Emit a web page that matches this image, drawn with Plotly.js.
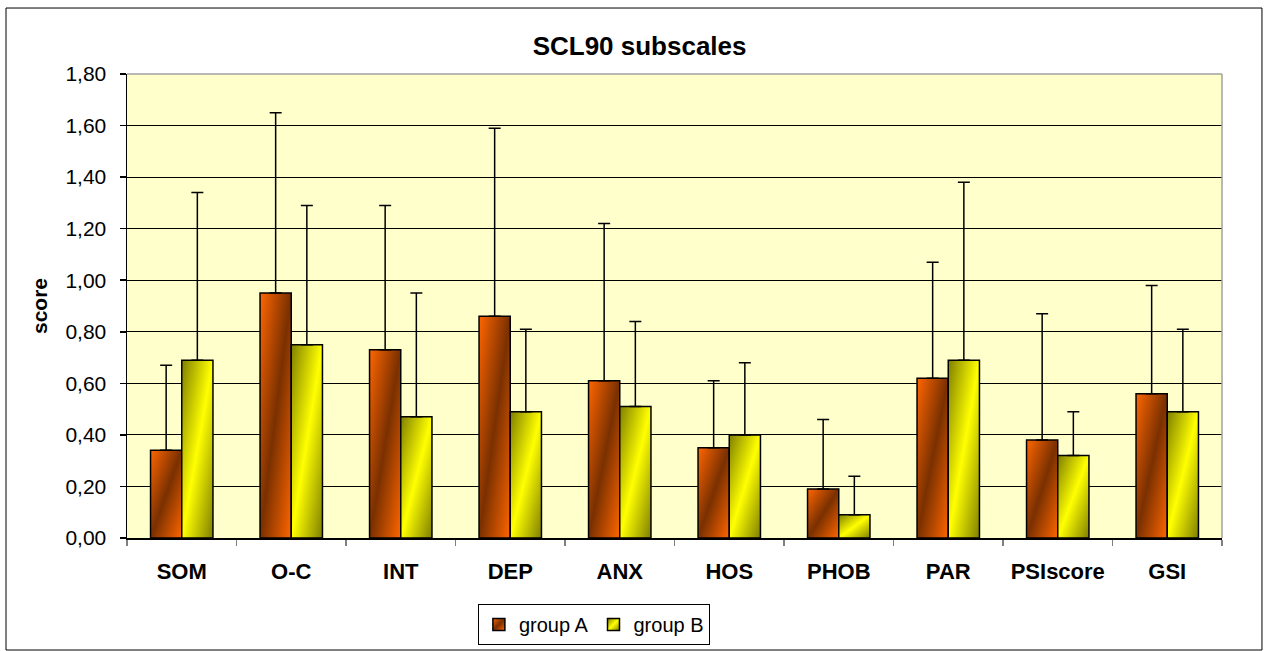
<!DOCTYPE html>
<html>
<head>
<meta charset="utf-8">
<script src="https://cdn.plot.ly/plotly-3.0.1.min.js"></script>
<style>
  html, body { margin: 0; padding: 0; background: #ffffff; }
  #chart { width: 1269px; height: 651px; }
</style>
</head>
<body>
<div id="chart"></div>
<script>
// ---- data ----
const categories = ["SOM", "O-C", "INT", "DEP", "ANX", "HOS", "PHOB", "PAR", "PSIscore", "GSI"];
const groupA = [0.34, 0.95, 0.73, 0.86, 0.61, 0.35, 0.19, 0.62, 0.38, 0.56];
const groupA_sd = [0.33, 0.70, 0.56, 0.73, 0.61, 0.26, 0.27, 0.45, 0.49, 0.42];
const groupB = [0.69, 0.75, 0.47, 0.49, 0.51, 0.40, 0.09, 0.69, 0.32, 0.49];
const groupB_sd = [0.65, 0.54, 0.48, 0.32, 0.33, 0.28, 0.15, 0.69, 0.17, 0.32];
const seriesNames = ["group A", "group B"];
const yTicks = [0, 0.2, 0.4, 0.6, 0.8, 1.0, 1.2, 1.4, 1.6, 1.8];

const FONT = '"Liberation Sans", Arial, sans-serif';

function errObj(sd) {
  return {
    type: 'data', symmetric: false, array: sd,
    arrayminus: sd.map(() => 0),
    color: '#000000', thickness: 1.5, width: 6, visible: true
  };
}

const traces = [
  {
    type: 'bar', name: seriesNames[0], x: categories, y: groupA,
    marker: { color: '#B44A10', line: { color: '#000000', width: 1.5 } },
    error_y: errObj(groupA_sd)
  },
  {
    type: 'bar', name: seriesNames[1], x: categories, y: groupB,
    marker: { color: '#E0E000', line: { color: '#000000', width: 1.5 } },
    error_y: errObj(groupB_sd)
  }
];

const layout = {
  width: 1269, height: 651,
  margin: { l: 127, r: 47, t: 74, b: 113 },
  paper_bgcolor: '#ffffff',
  plot_bgcolor: '#FFFFCC',
  separators: ',.',
  font: { family: FONT, color: '#000000', size: 20 },
  barmode: 'group', bargap: 0.43, bargroupgap: 0,
  title: {
    text: 'SCL90 subscales',
    font: { family: FONT, size: 26, weight: 'bold', color: '#000000' },
    xref: 'container', x: 0.504, xanchor: 'center',
    yref: 'container', y: 0.929, yanchor: 'middle'
  },
  xaxis: {
    type: 'category', automargin: false,
    tickson: 'boundaries', ticks: 'outside', ticklen: 6, tickcolor: '#808080', tickwidth: 1.5,
    showline: true, linecolor: '#000000', linewidth: 1.5,
    showgrid: false,
    tickfont: { family: FONT, size: 22, weight: 'bold', color: '#000000' },
    ticklabelstandoff: 13
  },
  yaxis: {
    range: [0, 1.8], automargin: false,
    tickvals: yTicks, tickformat: '.2f',
    ticks: 'outside', ticklen: 6, tickcolor: '#000000', tickwidth: 1.5,
    showline: true, linecolor: '#000000', linewidth: 1.5,
    showgrid: true, gridcolor: '#000000', gridwidth: 1,
    zeroline: false,
    tickfont: { family: FONT, size: 21, color: '#000000' },
    ticklabelstandoff: 9,
    title: { text: 'score', font: { family: FONT, size: 21, weight: 'bold', color: '#000000' }, standoff: 12 }
  },
  showlegend: true,
  legend: {
    orientation: 'h', xref: 'container', x: 0.468, xanchor: 'center',
    yref: 'container', y: 0.0722, yanchor: 'top',
    bgcolor: '#ffffff', bordercolor: '#000000', borderwidth: 1,
    font: { family: FONT, size: 20, color: '#000000' },
    itemwidth: 30
  },
  shapes: [
    // plot-area border (grey top and right edges)
    { type: 'line', xref: 'paper', yref: 'paper', x0: 0, x1: 1, y0: 1, y1: 1, line: { color: '#A0A0A0', width: 1.5 } },
    { type: 'line', xref: 'paper', yref: 'paper', x0: 1, x1: 1, y0: 0, y1: 1, line: { color: '#A0A0A0', width: 1.5 } },
    // outer chart frame
    { type: 'rect', xref: 'paper', yref: 'paper', x0: -0.1105, x1: 1.0365, y0: -0.2414, y1: 1.1422, line: { color: '#000000', width: 1 }, layer: 'below' }
  ]
};

const gd = document.getElementById('chart');
Plotly.newPlot(gd, traces, layout, { staticPlot: true, displayModeBar: false }).then(applyGradients);

function applyGradients() {
  const svg = gd.querySelector('svg.main-svg');
  let defs = svg.querySelector('defs');
  if (!defs) { defs = document.createElementNS('http://www.w3.org/2000/svg', 'defs'); svg.insertBefore(defs, svg.firstChild); }
  const NS = 'http://www.w3.org/2000/svg';
  function mkGrad(id, stops) {
    const g = document.createElementNS(NS, 'linearGradient');
    g.setAttribute('id', id);
    g.setAttribute('x1', '0'); g.setAttribute('y1', '0');
    g.setAttribute('x2', '1'); g.setAttribute('y2', '1');
    stops.forEach(s => {
      const st = document.createElementNS(NS, 'stop');
      st.setAttribute('offset', s[0]);
      st.setAttribute('stop-color', s[1]);
      g.appendChild(st);
    });
    defs.appendChild(g);
  }
  mkGrad('gradA', [[0, '#FF6600'], [0.5, '#7A3000'], [1, '#FF6600']]);
  mkGrad('gradB', [[0, '#7F7F00'], [0.5, '#FFFF00'], [1, '#7F7F00']]);
  const ids = ['url(#gradA)', 'url(#gradB)'];
  gd.querySelectorAll('.barlayer .trace').forEach((t, i) => {
    t.querySelectorAll('.point path').forEach(p => { p.style.fill = ids[i % 2]; });
  });
  gd.querySelectorAll('.legend .traces').forEach((t, i) => {
    t.querySelectorAll('.legendpoints path').forEach(p => { p.style.fill = ids[i % 2]; });
  });
}
</script>
</body>
</html>
